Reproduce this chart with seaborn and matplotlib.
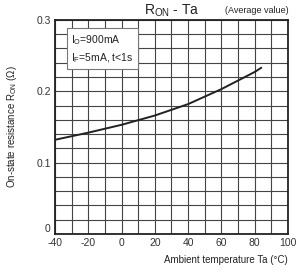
import numpy as np
import pandas as pd
import matplotlib
matplotlib.use("Agg")
import matplotlib.pyplot as plt
import seaborn as sns

# values
temp_c = [-40, -20, 0, 20, 40, 60, 80, 84]
r_on = [0.132, 0.142, 0.153, 0.166, 0.182, 0.203, 0.227, 0.233]

x_ticks = [-40, -20, 0, 20, 40, 60, 80, 100]
y_ticks = [0, 0.1, 0.2, 0.3]

df = pd.DataFrame({"Ta": temp_c, "Ron": r_on})

sns.set_style("white")
plt.rcParams["font.family"] = ["Liberation Sans", "DejaVu Sans"]
plt.rcParams["mathtext.fontset"] = "custom"
plt.rcParams["mathtext.rm"] = "Liberation Sans"

fig = plt.figure(figsize=(3.04, 2.73), dpi=100)
ax = fig.add_axes([0.181, 0.143, 0.766, 0.784])

sns.lineplot(data=df, x="Ta", y="Ron", ax=ax, color="#222222", linewidth=1.4)

ax.set_xlim(-40, 100)
ax.set_ylim(0, 0.3)
ax.set_xticks(x_ticks)
ax.set_xticklabels([str(t) for t in x_ticks], fontsize=7.5)
ax.set_yticks(y_ticks)
ax.set_yticklabels(["0", "0.1", "0.2", "0.3"], fontsize=7.5)
ax.get_yticklabels()[0].set_va("bottom")
ax.set_xticks(np.arange(-40, 101, 10), minor=True)
ax.set_yticks(np.arange(0, 0.301, 0.02), minor=True)
ax.grid(True, which="both", color="#444444", linewidth=0.8)
ax.tick_params(axis="both", which="both", length=0, pad=3, colors="#333333")
for s in ax.spines.values():
    s.set_color("#222222")
    s.set_linewidth(1.3)

ax.set_xlabel("")
ax.set_ylabel("")

fig.text(0.947, 0.03, "Ambient temperature Ta (°C)", ha="right", va="bottom",
         fontsize=7, color="#222222")
fig.text(0.04, 0.535, r"On-state resistance R$_\mathregular{ON}$ ($\Omega$)",
         rotation=90, ha="center", va="center", fontsize=7, color="#222222")
fig.text(0.565, 0.962, r"R$_\mathregular{ON}$ - Ta", ha="center", va="center",
         fontsize=10, color="#222222")
fig.text(0.95, 0.962, "(Average value)", ha="right", va="center",
         fontsize=6.5, color="#222222")

ax.text(0.07, 0.94, "I$_\\mathregular{O}$=900mA\nI$_\\mathregular{F}$=5mA, t<1s",
        transform=ax.transAxes, ha="left", va="top", fontsize=7.5,
        color="#222222", linespacing=1.45,
        bbox=dict(boxstyle="square,pad=0.45", facecolor="white",
                  edgecolor="#777777", linewidth=0.8))

fig.savefig("out.png", dpi=100)
